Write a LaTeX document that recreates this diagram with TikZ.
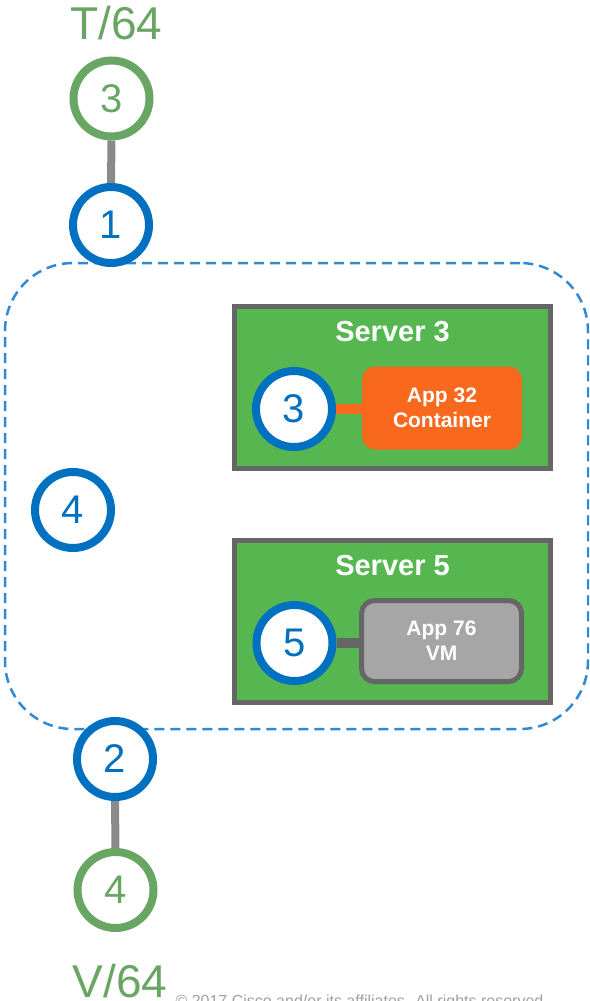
\documentclass[tikz,border=0pt]{standalone}
\usepackage{fontspec}
\setmainfont{Liberation Sans}

\definecolor{netblue}{HTML}{0070C0}
\definecolor{zoneblue}{HTML}{2E8AD6}
\definecolor{prefixgreen}{HTML}{6AA663}
\definecolor{servergreen}{HTML}{56B64F}
\definecolor{framegray}{HTML}{666666}
\definecolor{apporange}{HTML}{F9691D}
\definecolor{vmgray}{HTML}{A6A6A6}
\definecolor{linkgray}{HTML}{8A8A8A}
\definecolor{notegray}{HTML}{A0A0A0}

\begin{document}
\begin{tikzpicture}[
    x=1pt, y=-1pt,
    ring/.style={
        circle,
        draw=netblue,
        line width=8pt,
        fill=white,
        minimum size=76pt,
        inner sep=0pt,
        text=netblue,
        font=\fontsize{40}{44}\selectfont
    },
    prefix ring/.style={ring, draw=prefixgreen, text=prefixgreen},
    server/.style={
        rectangle,
        draw=framegray,
        fill=servergreen,
        line width=5pt,
        minimum width=316pt,
        minimum height=162pt
    },
    app/.style={
        rectangle,
        rounded corners=13pt,
        fill=apporange,
        minimum width=160pt,
        minimum height=83pt,
        align=center,
        text=white,
        font=\fontsize{21}{25}\selectfont\bfseries
    },
    vm/.style={app, fill=vmgray, draw=framegray, line width=5pt, minimum height=81pt},
    title/.style={text=white, font=\fontsize{29}{32}\selectfont\bfseries},
    prefixlabel/.style={text=prefixgreen, font=\fontsize{46}{50}\selectfont, anchor=base},
    link/.style={draw=linkgray, line width=8pt},
    zone/.style={
        rectangle,
        draw=zoneblue,
        line width=2.5pt,
        dash pattern=on 10pt off 6pt,
        rounded corners=68pt,
        minimum width=583pt,
        minimum height=466pt
    }
]
\useasboundingbox (0,0) rectangle (589,1001);
\clip (0,0) rectangle (589,1001);

% Dashed zone
\node[zone] (zone) at (296.5,496) {};

% Servers
\node[server] (srv3) at (392.5,387) {};
\node[server] (srv5) at (392.5,621) {};
\node[title] (srv3title) at (392.5,332) {Server 3};
\node[title] (srv5title) at (392.5,566) {Server 5};

% Workloads
\node[app] (app32) at (442,408) {App 32\\Container};
\node[vm] (app76) at (441.5,641) {App 76\\VM};

% Rings
\node[prefix ring] (t3) at (111.5,98.5) {3};
\node[ring] (r1) at (111,225) {1};
\node[ring] (r4) at (73,510) {4};
\node[ring] (r2) at (115,759) {2};
\node[prefix ring] (v4) at (115.5,890) {4};
\node[ring] (s3) at (294,409) {3};
\node[ring] (s5) at (294.5,643) {5};

% Links
\draw[link] (t3) -- (r1);
\draw[link] (r2) -- (v4);
\draw[link, draw=apporange, line width=10pt] (s3.east) -- (app32.west |- s3.east);
\draw[link, draw=framegray, line width=10pt] (s5.east) -- (app76.west |- s5.east);

% Labels
\node[prefixlabel] (tlabel) at (116.5,39) {T/64};
\node[prefixlabel] (vlabel) at (120,997) {V/64};
\node[text=notegray, font=\fontsize{16}{18}\selectfont, anchor=base west] (note) at (172,1006) {© 2017  Cisco and/or its affiliates. All rights reserved.};

\end{tikzpicture}
\end{document}
